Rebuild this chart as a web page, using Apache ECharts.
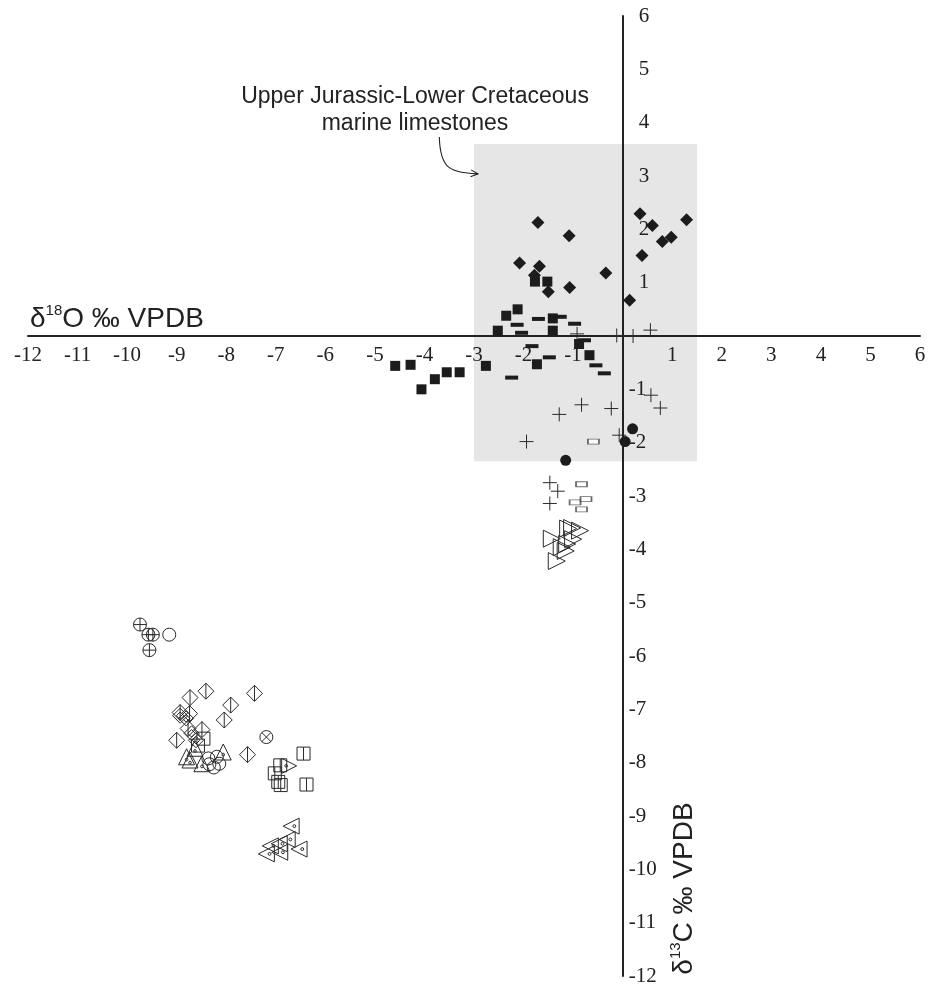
<!DOCTYPE html>
<html><head><meta charset="utf-8">
<script src="https://cdn.jsdelivr.net/npm/echarts@6/dist/echarts.min.js"></script>
<style>html,body{margin:0;padding:0;background:#fff}#c{width:931px;height:993px}</style>
</head><body><div id="c"></div>
<script>
// ---- axis ranges & tick labels ----
const xRange = [-12, 6];
const yRange = [-12, 6];
const xTickLabels = [-12,-11,-10,-9,-8,-7,-6,-5,-4,-3,-2,-1,1,2,3,4,5,6];
const yTickLabels = [6,5,4,3,2,1,-1,-2,-3,-4,-5,-6,-7,-8,-9,-10,-11,-12];

// shaded field: Upper Jurassic-Lower Cretaceous marine limestones
const boxX = [-3.0, 1.5];
const boxY = [-2.35, 3.6];
const noteLines = ['Upper Jurassic-Lower Cretaceous', 'marine limestones'];
const noteAnchor = [-4.19, 4.23];
const arrowPts = [[-3.70, 3.73], [-3.68, 3.22], [-2.92, 3.04]];

// ---- data series [δ18O, δ13C] ----
const filledDiamonds = [[-1.71,2.13],[-1.08,1.88],[-2.08,1.37],[-1.68,1.31],[-1.50,0.83],[-1.07,0.91],[-0.34,1.18],[0.14,0.67],[0.35,2.29],[0.60,2.07],[0.80,1.77],[0.98,1.85],[1.29,2.18],[0.39,1.51],[-1.78,1.14]];
const filledSquares = [[-1.77,1.02],[-1.52,1.02],[-2.12,0.50],[-2.35,0.38],[-2.52,0.10],[-1.41,0.33],[-1.41,0.10],[-0.88,-0.15],[-0.67,-0.36],[-1.73,-0.53],[-2.76,-0.56],[-4.59,-0.56],[-4.28,-0.54],[-4.06,-1.00],[-3.79,-0.81],[-3.55,-0.68],[-3.29,-0.68]];
const dashes = [[-2.13,0.21],[-2.04,0.06],[-1.70,0.32],[-1.26,0.36],[-0.97,0.23],[-1.83,-0.19],[-1.48,-0.40],[-2.24,-0.78],[-0.77,-0.08],[-0.54,-0.55],[-0.37,-0.70]];
const crosses = [[-0.92,0.04],[-0.12,0.01],[0.21,0.00],[0.56,0.11],[0.57,-1.11],[0.76,-1.35],[-0.83,-1.29],[-1.28,-1.47],[-0.23,-1.36],[-1.94,-1.98],[-0.07,-1.86],[-1.47,-2.75],[-1.31,-2.91],[-1.47,-3.14]];
const filledCircles = [[0.20,-1.74],[0.05,-1.98],[-1.15,-2.33]];
const openBars = [[-0.59,-1.98],[-0.83,-2.78],[-0.96,-3.12],[-0.74,-3.06],[-0.83,-3.25]];
const rightTriangles = [[-1.43,-3.80],[-1.10,-3.61],[-1.02,-3.60],[-0.86,-3.65],[-1.00,-3.81],[-1.12,-3.90],[-1.23,-3.96],[-1.15,-4.03],[-1.33,-4.22]];
const circlePlus = [[-9.74,-5.41],[-9.57,-5.60],[-9.48,-5.60],[-9.55,-5.89]];
const openCircles = [[-9.15,-5.60],[-8.36,-7.92],[-8.19,-7.89],[-8.14,-8.02],[-8.34,-8.03],[-8.25,-8.09]];
const diamondBar = [[-8.73,-6.78],[-8.41,-6.66],[-7.43,-6.70],[-7.91,-6.92],[-8.04,-7.20],[-8.93,-7.06],[-8.74,-7.08],[-9.00,-7.58],[-7.57,-7.85],[-8.49,-7.38],[-8.77,-7.36]];
const circleCross = [[-7.19,-7.52]];
const squareBar = [[-6.44,-7.83],[-6.91,-8.05],[-7.02,-8.20],[-6.95,-8.36],[-6.90,-8.42],[-6.38,-8.41]];
const leftDotTriangles = [[-6.69,-9.19],[-6.77,-9.44],[-6.93,-9.52],[-7.11,-9.56],[-6.92,-9.68],[-7.19,-9.71],[-6.53,-9.62]];
const rightDotTriangles = [[-6.73,-8.06]];
const upTriangles = [[-8.80,-7.89],[-8.49,-8.02],[-8.06,-7.80],[-8.63,-7.73],[-8.73,-7.95]];
const openSquares = [[-8.46,-7.55],[-8.57,-7.68]];
const nestedDiamonds = [[-8.93,-7.12],[-8.81,-7.17],[-8.70,-7.45],[-8.61,-7.58]];

// ---- symbols ----
const CIRC = 'M0,5A5,5 0 1,1 10,5A5,5 0 1,1 0,5Z';
const SYM = {
  plus: 'path://M5,0V10M0,5H10',
  circlePlus: 'path://' + CIRC + 'M5,0V10M0,5H10',
  circle: 'path://' + CIRC,
  circleCross: 'path://' + CIRC + 'M1.5,1.5L8.5,8.5M8.5,1.5L1.5,8.5',
  diamondBar: 'path://M5,0L10,5L5,10L0,5ZM5,0V10',
  nestedDiamond: 'path://M5,0L10,5L5,10L0,5ZM5,2.5L7.5,5L5,7.5L2.5,5Z',
  squareBar: 'path://M0,0H10V10H0ZM5,0V10',
  square: 'path://M0,0H10V10H0Z',
  triRight: 'path://M0,0L10,5L0,10Z',
  triLeftDot: 'path://M0,5L10,0L10,10ZM6.1,5A0.9,0.9 0 1,1 7.9,5A0.9,0.9 0 1,1 6.1,5Z',
  triRightDot: 'path://M10,5L0,0L0,10ZM2.1,5A0.9,0.9 0 1,1 3.9,5A0.9,0.9 0 1,1 2.1,5Z',
  triUpDot: 'path://M5,0L10,9L0,9ZM4.2,6A0.8,0.8 0 1,1 5.8,6A0.8,0.8 0 1,1 4.2,6Z'
};
const INK = '#1c1c1c';
function filled(data, symbol, size) {
  return {type:'scatter', z:3, data, symbol, symbolSize:size, itemStyle:{color:INK, opacity:1}};
}
function outline(data, symbol, size, lw) {
  return {type:'scatter', z:3, data, symbol, symbolSize:size,
    itemStyle:{color:'rgba(0,0,0,0)', borderColor:'#2a2a2a', borderWidth: lw || 1, opacity:1}};
}

const chart = echarts.init(document.getElementById('c'), null, {renderer:'canvas'});
const serif = '"Liberation Serif","Times New Roman",serif';
const sans = '"Liberation Sans",Arial,sans-serif';

chart.setOption({
  animation:false,
  backgroundColor:'#fff',
  grid:{left:28, right:11, top:16, bottom:17, outerBoundsMode:'none', containLabel:false},
  xAxis:{type:'value', min:xRange[0], max:xRange[1], interval:1, position:'bottom', z:2,
    axisLine:{onZero:false, lineStyle:{color:'#222', width:2}},
    axisTick:{show:false}, splitLine:{show:false},
    axisLabel:{margin:9, fontFamily:serif, fontSize:21, color:'#222',
      formatter:v => xTickLabels.includes(v) ? String(v) : ''}},
  yAxis:{type:'value', min:yRange[0], max:yRange[1], interval:1, position:'right', z:2,
    axisLine:{onZero:false, lineStyle:{color:'#222', width:2}},
    axisTick:{show:false}, splitLine:{show:false},
    axisLabel:{margin:6, fontFamily:serif, fontSize:21, color:'#222',
      formatter:v => yTickLabels.includes(v) ? (v > 0 ? '{p|' + v + '}' : String(v)) : '',
      rich:{p:{fontFamily:serif, fontSize:21, color:'#222', padding:[0,0,0,10]}}}},
  series:[
    {type:'scatter', z:1, data:[], silent:true,
      markArea:{silent:true, itemStyle:{color:'#e6e6e6'},
        data:[[{coord:[boxX[0], boxY[1]]},{coord:[boxX[1], boxY[0]]}]]}},
    filled(filledDiamonds, 'diamond', 13),
    filled(filledSquares, 'rect', 10),
    filled(dashes, 'rect', [13,4]),
    outline(crosses, SYM.plus, 14),
    filled(filledCircles, 'circle', 11),
    {type:'scatter', z:3, data:openBars, symbol:'rect', symbolSize:[11,5],
      itemStyle:{color:'#fff', borderColor:'#444', borderWidth:1.2}},
    outline(rightTriangles, SYM.triRight, 17),
    outline(circlePlus, SYM.circlePlus, 13),
    outline(openCircles, SYM.circle, 13),
    outline(diamondBar, SYM.diamondBar, 16),
    outline(circleCross, SYM.circleCross, 13),
    outline(squareBar, SYM.squareBar, 13),
    outline(leftDotTriangles, SYM.triLeftDot, 16),
    outline(rightDotTriangles, SYM.triRightDot, 15),
    outline(upTriangles, SYM.triUpDot, 16),
    outline(openSquares, SYM.square, 13),
    outline(nestedDiamonds, SYM.nestedDiamond, 15)
  ]
});

// ---- move both axes (line + labels) to cross at the origin ----
const px = p => chart.convertToPixel({gridIndex:0}, p);
const o = px([0,0]);
const corner = px([xRange[1], yRange[0]]); // right/bottom edge of grid
chart.setOption({
  xAxis:{offset: -(corner[1] - o[1])},
  yAxis:{offset: -(corner[0] - o[0])}
});

// ---- annotations (positioned from data coordinates) ----
const a = px(noteAnchor);
const p0 = px(arrowPts[0]), p1 = px(arrowPts[1]), p2 = px(arrowPts[2]);
const ang = Math.atan2(2, p2[0]-(p1[0]+10));
const hl = 8, hw = 0.45;
const head = [
  [p2[0], p2[1]],
  [p2[0]-hl*Math.cos(ang-hw), p2[1]-hl*Math.sin(ang-hw)],
  [p2[0]-hl*Math.cos(ang+hw), p2[1]-hl*Math.sin(ang+hw)]
];
chart.setOption({graphic:[
  {type:'text', x:a[0], y:a[1], z:10, style:{text:noteLines.join('\n'), font:'23px ' + sans,
    lineHeight:27, fill:'#222', align:'center', verticalAlign:'middle'}},
  {type:'bezierCurve', z:10, shape:{x1:p0[0], y1:p0[1], cpx1:p1[0], cpy1:p1[1]+6, cpx2:p1[0]+10, cpy2:p2[1]-2, x2:p2[0], y2:p2[1]},
    style:{stroke:'#222', lineWidth:1.1, fill:null}},
  {type:'polyline', z:10, shape:{points:[head[1], head[0], head[2]]}, style:{stroke:'#222', lineWidth:1.1, fill:null}},
  {type:'text', x:30, y:o[1]-17, z:10, style:{
    text:'{a|δ}{s|18}{a|O ‰ VPDB}', verticalAlign:'middle', align:'left',
    rich:{a:{fontFamily:sans, fontSize:28, fill:'#222', lineHeight:32},
          s:{fontFamily:sans, fontSize:15, fill:'#222', verticalAlign:'top', lineHeight:17}}}},
  {type:'text', x:o[0]+62, y:px([0,-10.36])[1], rotation:Math.PI/2, z:10, style:{
    text:'{a|δ}{s|13}{a|C ‰ VPDB}', verticalAlign:'middle', align:'center',
    rich:{a:{fontFamily:sans, fontSize:28, fill:'#222', lineHeight:32},
          s:{fontFamily:sans, fontSize:15, fill:'#222', verticalAlign:'top', lineHeight:17}}}}
]});
</script>
</body></html>
